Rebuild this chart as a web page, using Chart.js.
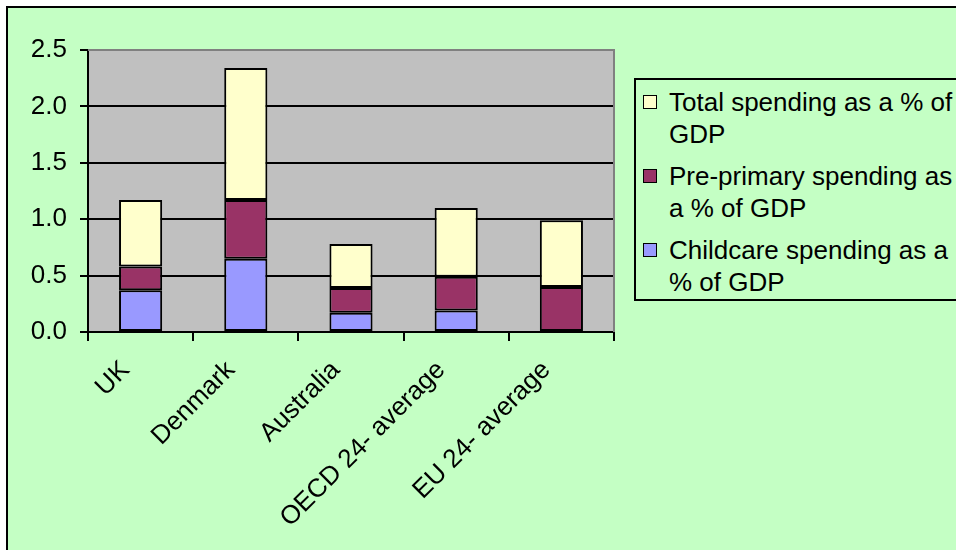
<!DOCTYPE html>
<html>
<head>
<meta charset="utf-8">
<script src="https://cdn.jsdelivr.net/npm/chart.js@4.4.1/dist/chart.umd.min.js"></script>
<style>
  html, body { margin: 0; padding: 0; background: #fff; overflow: hidden; width: 956px; height: 550px; }
  #frame { position: absolute; left: 6px; top: 6px; width: 980px; height: 580px; border: 2px solid #000; background: #C4FFC4; box-sizing: border-box; }
  #c { position: absolute; left: 0; top: 0; }
  #legend { position: absolute; left: 634px; top: 78px; width: 360px; height: 223px; border: 2px solid #000; background: #C4FFC4; box-sizing: border-box; font-family: "Liberation Sans", Arial, sans-serif; font-size: 26px; color: #000; padding-top: 6px; }
  .item { position: relative; padding-left: 33px; width: 296px; line-height: 32px; margin-bottom: 10px; }
  .sw { position: absolute; left: 7px; top: 9px; width: 14px; height: 14px; border: 1.5px solid #000; box-sizing: border-box; }
</style>
</head>
<body>
<div id="frame"></div>
<canvas id="c" width="956" height="550"></canvas>
<div id="legend"></div>
<script>
const categories = ["UK", "Denmark", "Australia", "OECD 24- average", "EU 24- average"];
const seriesNames = ["Childcare spending as a % of GDP", "Pre-primary spending as a % of GDP", "Total spending as a % of GDP"];
const childcare = [0.37, 0.65, 0.17, 0.19, 0];
const prePrimary = [0.21, 0.52, 0.22, 0.30, 0.40];
const total = [0.59, 1.17, 0.39, 0.61, 0.59];
const yTicks = [0, 0.5, 1.0, 1.5, 2.0, 2.5];
const colors = ["#9999FF", "#993366", "#FFFFCC"];

const FONT = "'Liberation Sans', Arial, sans-serif";

const plotBg = {
  id: 'plotBg',
  beforeDraw(chart) {
    const { ctx, chartArea: a } = chart;
    ctx.save();
    ctx.fillStyle = '#C0C0C0';
    ctx.fillRect(a.left, a.top, a.right - a.left, a.bottom - a.top);
    ctx.restore();
  },
  afterDatasetsDraw(chart) {
    const { ctx, chartArea: a } = chart;
    ctx.save();
    ctx.strokeStyle = '#808080';
    ctx.lineWidth = 2;
    ctx.beginPath();
    ctx.moveTo(a.left, a.top);
    ctx.lineTo(a.right, a.top);
    ctx.lineTo(a.right, a.bottom);
    ctx.stroke();
    ctx.restore();
  }
};

const values = [childcare, prePrimary, total];
const chart = new Chart(document.getElementById('c'), {
  type: 'bar',
  data: {
    labels: categories,
    datasets: seriesNames.map((n, i) => ({
      label: n,
      data: values[i],
      backgroundColor: colors[i],
      borderColor: '#000',
      borderWidth: 2,
      borderSkipped: false,
      barPercentage: 0.41,
      categoryPercentage: 1.0
    }))
  },
  options: {
    responsive: false,
    animation: false,
    devicePixelRatio: 1,
    layout: { padding: { left: 8, top: 50, right: 342, bottom: 0 } },
    plugins: { legend: { display: false }, tooltip: { enabled: false } },
    scales: {
      x: {
        stacked: true,
        grid: { display: true, drawOnChartArea: false, drawTicks: true, tickLength: 9, color: '#000', lineWidth: 2, offset: true },
        border: { color: '#000', width: 2 },
        ticks: { minRotation: 45, maxRotation: 45, autoSkip: false, color: '#000', font: { family: FONT, size: 26 }, padding: 14, labelOffset: -15 },
        afterFit(s) { s.height = 218; }
      },
      y: {
        stacked: true,
        min: 0, max: 2.5,
        afterBuildTicks(s) { s.ticks = yTicks.map(v => ({ value: v })); },
        ticks: { color: '#000', font: { family: FONT, size: 26 }, padding: 13, callback: v => Number(v).toFixed(1) },
        grid: { color: c => (c.tick && c.tick.value === 2.5) ? '#808080' : '#000', tickColor: '#000', lineWidth: 2, tickLength: 8 },
        border: { color: '#000', width: 2 },
        afterFit(s) { s.width = 80; }
      }
    }
  },
  plugins: [plotBg]
});

// HTML legend (reverse order, like the original)
const leg = document.getElementById('legend');
for (let i = seriesNames.length - 1; i >= 0; i--) {
  const it = document.createElement('div');
  it.className = 'item';
  const sw = document.createElement('span');
  sw.className = 'sw';
  sw.style.background = colors[i];
  it.appendChild(sw);
  it.appendChild(document.createTextNode(seriesNames[i]));
  leg.appendChild(it);
}
</script>
</body>
</html>
